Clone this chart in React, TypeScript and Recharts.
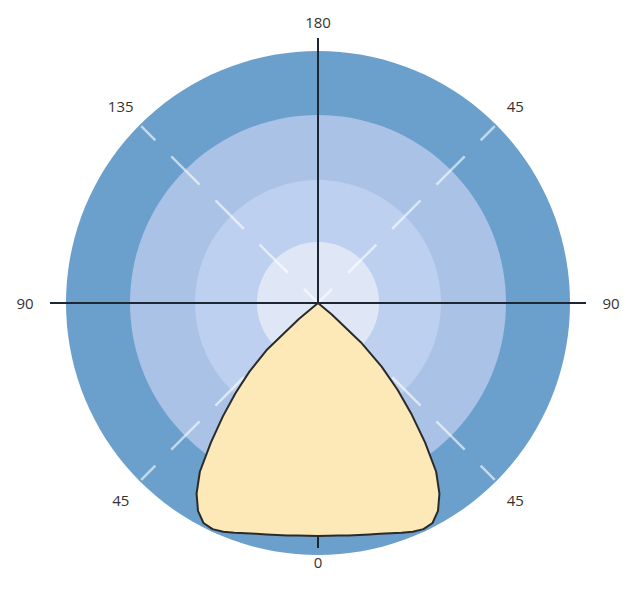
import React from 'react';
import { PolarAngleAxis, PolarRadiusAxis, Radar, RadarChart } from 'recharts';

// category angles (0 = straight down, going clockwise), 2.5 degree steps
const ANGLES: number[] = Array.from({ length: 144 }, (_, i) => i * 2.5);

// background zones, radial units
const RING_RADII = [252, 188, 123, 61];
const RING_COLORS = ['#6b9fcc', '#a9c2e5', '#bdd0ef', '#dfe7f7'];

// light distribution, left half: angles 0, 2.5 ... 50
const BEAM_LEFT = [233, 233, 233.5, 234.5, 235.5, 237, 239, 241.5, 244.5, 247.5, 249.5, 248, 240, 226, 206, 176, 148, 122, 97, 70, 25];
// right half: angles 357.5, 355 ... 310
const BEAM_RIGHT = [233, 233.5, 234.5, 235.5, 237, 239, 241.5, 244.5, 247.5, 249.5, 248, 240, 226, 206, 176, 146, 118, 90, 58, 18];

// black cross axes
const AXIS_SPOKES = [
  { angle: 0, length: 245 },
  { angle: 90, length: 268 },
  { angle: 180, length: 265 },
  { angle: 270, length: 268 },
];

// white dashed diagonals
const DIAGONAL_ANGLES = [45, 135, 225, 315];
const DIAGONAL_LENGTH = 250;

const AXIS_LABELS = [
  { angle: 0, text: '0' },
  { angle: 45, text: '45' },
  { angle: 90, text: '90' },
  { angle: 135, text: '135' },
  { angle: 180, text: '180' },
  { angle: 225, text: '45' },
  { angle: 270, text: '90' },
  { angle: 315, text: '45' },
];

const CX = 318;
const CY = 303;

const beamAt = (i: number): number => {
  if (i < BEAM_LEFT.length) return BEAM_LEFT[i];
  const mirror = ANGLES.length - i;
  if (mirror >= 1 && mirror <= BEAM_RIGHT.length) return BEAM_RIGHT[mirror - 1];
  return 0;
};

const data = ANGLES.map((angle, i) => {
  const row: Record<string, number> = { angle, beam: beamAt(i) };
  RING_RADII.forEach((r, k) => {
    row[`ring${k}`] = r;
  });
  row.axes = AXIS_SPOKES.find((s) => s.angle === angle)?.length ?? 0;
  row.diag = DIAGONAL_ANGLES.includes(angle) ? DIAGONAL_LENGTH : 0;
  return row;
});

const labelRadius = (angle: number) => {
  if (angle === 0) return 259;
  if (angle === 90 || angle === 270) return 293;
  if (angle === 180) return 281;
  return 279;
};

const AngleTick = (props: any) => {
  const { x, y, payload } = props;
  const label = AXIS_LABELS.find((l) => l.angle === payload?.value);
  if (!label) return null;
  const dx = x - CX;
  const dy = y - CY;
  const len = Math.sqrt(dx * dx + dy * dy) || 1;
  const r = labelRadius(label.angle);
  return (
    <text
      x={CX + (dx / len) * r}
      y={CY + (dy / len) * r}
      textAnchor="middle"
      dominantBaseline="central"
      fontFamily="'Open Sans', sans-serif"
      fontSize={15}
      fill="#333"
    >
      {label.text}
    </text>
  );
};

export default function App() {
  return (
    <div style={{ position: 'absolute', left: 0, top: 0, width: 633, height: 600, background: '#fff' }}>
      <RadarChart
        width={633}
        height={600}
        data={data}
        cx={CX}
        cy={CY}
        outerRadius={270}
        startAngle={-90}
        endAngle={-450}
        margin={{ top: 0, right: 0, bottom: 0, left: 0 }}
      >
        <PolarAngleAxis dataKey="angle" tick={<AngleTick />} axisLine={false} tickLine={false} />
        <PolarRadiusAxis type="number" domain={[0, 270]} tick={false} axisLine={false} allowDataOverflow />
        {RING_RADII.map((_, k) => (
          <Radar
            key={k}
            dataKey={`ring${k}`}
            fill={RING_COLORS[k]}
            fillOpacity={1}
            stroke="none"
            isAnimationActive={false}
          />
        ))}
        <Radar
          dataKey="diag"
          fill="none"
          fillOpacity={0}
          stroke="rgba(255,255,255,0.6)"
          strokeWidth={2.5}
          strokeDasharray="40 22.5"
          strokeDashoffset={20}
          isAnimationActive={false}
        />
        <Radar
          dataKey="axes"
          fill="none"
          fillOpacity={0}
          stroke="#1c2733"
          strokeWidth={2}
          isAnimationActive={false}
        />
        <Radar
          dataKey="beam"
          fill="#fde9b8"
          fillOpacity={1}
          stroke="#2a2a2a"
          strokeWidth={2}
          strokeLinejoin="round"
          isAnimationActive={false}
        />
      </RadarChart>
    </div>
  );
}
